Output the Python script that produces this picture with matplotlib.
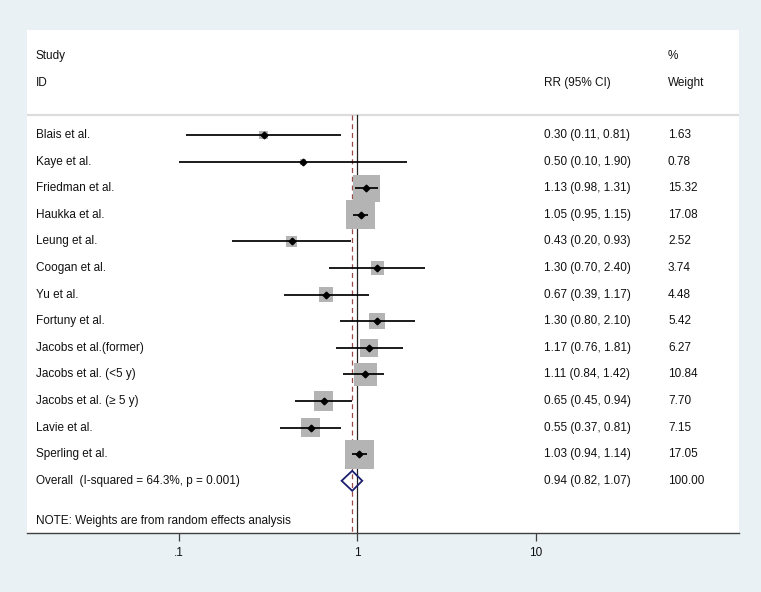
import matplotlib
matplotlib.use('Agg')
import matplotlib.pyplot as plt
import matplotlib.transforms as mtransforms
from matplotlib.patches import Polygon
import numpy as np

plt.rcParams['font.family'] = ['Liberation Sans', 'DejaVu Sans']

studies = ['Blais et al.', 'Kaye et al.', 'Friedman et al.', 'Haukka et al.',
           'Leung et al.', 'Coogan et al.', 'Yu et al.', 'Fortuny et al.',
           'Jacobs et al.(former)', 'Jacobs et al. (<5 y)', 'Jacobs et al. (\u2265 5 y)',
           'Lavie et al.', 'Sperling et al.']
rr = [0.30, 0.50, 1.13, 1.05, 0.43, 1.30, 0.67, 1.30, 1.17, 1.11, 0.65, 0.55, 1.03]
lo = [0.11, 0.10, 0.98, 0.95, 0.20, 0.70, 0.39, 0.80, 0.76, 0.84, 0.45, 0.37, 0.94]
hi = [0.81, 1.90, 1.31, 1.15, 0.93, 2.40, 1.17, 2.10, 1.81, 1.42, 0.94, 0.81, 1.14]
weights = [1.63, 0.78, 15.32, 17.08, 2.52, 3.74, 4.48, 5.42, 6.27, 10.84, 7.70, 7.15, 17.05]

overall_label = 'Overall  (I-squared = 64.3%, p = 0.001)'
overall_rr, overall_lo, overall_hi, overall_w = 0.94, 0.82, 1.07, 100.00
note = 'NOTE: Weights are from random effects analysis'

xticks = [0.1, 1, 10]
xticklabels = ['.1', '1', '10']

bg = '#e9f1f4'
txt = '#111111'
fs = 8.5

fig = plt.figure(figsize=(7.61, 5.92), dpi=100, facecolor=bg)
W, H = 761, 592
ax = fig.add_axes([27 / W, (H - 533) / H, 712 / W, 503 / H])
ax.set_facecolor('white')

# log x axis, rows on y (row 0 = first study)
ax.set_xscale('log')
ax.set_xlim(10 ** ((27 - 357) / 178.5), 10 ** ((739 - 357) / 178.5))
row_px = 26.6
y_top = (30 - 135) / row_px
y_bot = (533 - 135) / row_px
ax.set_ylim(y_bot, y_top)

for s in ['top', 'left', 'right']:
    ax.spines[s].set_visible(False)
ax.spines['bottom'].set_color('#404040')
ax.spines['bottom'].set_linewidth(1.0)
ax.set_yticks([])
ax.set_xticks(xticks)
ax.set_xticklabels(xticklabels, fontsize=fs, color=txt)
ax.minorticks_off()
ax.tick_params(axis='x', length=6, width=0.9, color='#404040', pad=4)

trans = mtransforms.blended_transform_factory(ax.transAxes, ax.transData)

# header
sep_y = (115 - 135) / row_px
h1 = (56 - 135) / row_px
h2 = (83 - 135) / row_px
x_name, x_rr, x_w = (36 - 27) / 712, (544 - 27) / 712, (668 - 27) / 712
ax.text(x_name, h1, 'Study', transform=trans, fontsize=fs, color=txt, va='center')
ax.text(x_name, h2, 'ID', transform=trans, fontsize=fs, color=txt, va='center')
ax.text(x_rr, h2, 'RR (95% CI)', transform=trans, fontsize=fs, color=txt, va='center')
ax.text(x_w, h1, '%', transform=trans, fontsize=fs, color=txt, va='center')
ax.text(x_w, h2, 'Weight', transform=trans, fontsize=fs, color=txt, va='center')
ax.plot([0, 1], [sep_y, sep_y], transform=trans, color='#dcdcdc', lw=1.6, zorder=1)

# reference lines
ax.plot([1, 1], [sep_y, y_bot], color='#222222', lw=0.9, zorder=1)
ax.plot([overall_rr, overall_rr], [sep_y, y_bot], color='#9b4a4a', lw=0.9,
        ls=(0, (4, 3)), zorder=1)

ys = np.arange(len(studies))
sizes = [(7.0 * np.sqrt(w) * 0.72) ** 2 for w in weights]
ax.scatter(rr, ys, s=sizes, marker='s', color='#b4b4b4', linewidths=0, zorder=2)
ax.hlines(ys, lo, hi, color='black', lw=1.25, zorder=3)
ax.plot(rr, ys, 'D', color='black', ms=3.4, zorder=4)

for y, name, r, l, h, w in zip(ys, studies, rr, lo, hi, weights):
    ax.text(x_name, y, name, transform=trans, fontsize=fs, color=txt, va='center')
    ax.text(x_rr, y, f'{r:.2f} ({l:.2f}, {h:.2f})', transform=trans,
            fontsize=fs, color=txt, va='center')
    ax.text(x_w, y, f'{w:.2f}', transform=trans, fontsize=fs, color=txt, va='center')

# overall diamond
oy = len(studies)
dh = 10 / row_px
diamond = Polygon([(overall_lo, oy), (overall_rr, oy - dh), (overall_hi, oy),
                   (overall_rr, oy + dh)], closed=True, facecolor='none',
                  edgecolor='#1c1f6e', lw=1.3, zorder=5)
ax.add_patch(diamond)
ax.text(x_name, oy, overall_label, transform=trans, fontsize=fs, color=txt, va='center')
ax.text(x_rr, oy, f'{overall_rr:.2f} ({overall_lo:.2f}, {overall_hi:.2f})',
        transform=trans, fontsize=fs, color=txt, va='center')
ax.text(x_w, oy, f'{overall_w:.2f}', transform=trans, fontsize=fs, color=txt, va='center')

ax.text(x_name, (521 - 135) / row_px, note, transform=trans, fontsize=fs,
        color=txt, va='center')

fig.savefig('out.png', dpi=100, facecolor=bg)
